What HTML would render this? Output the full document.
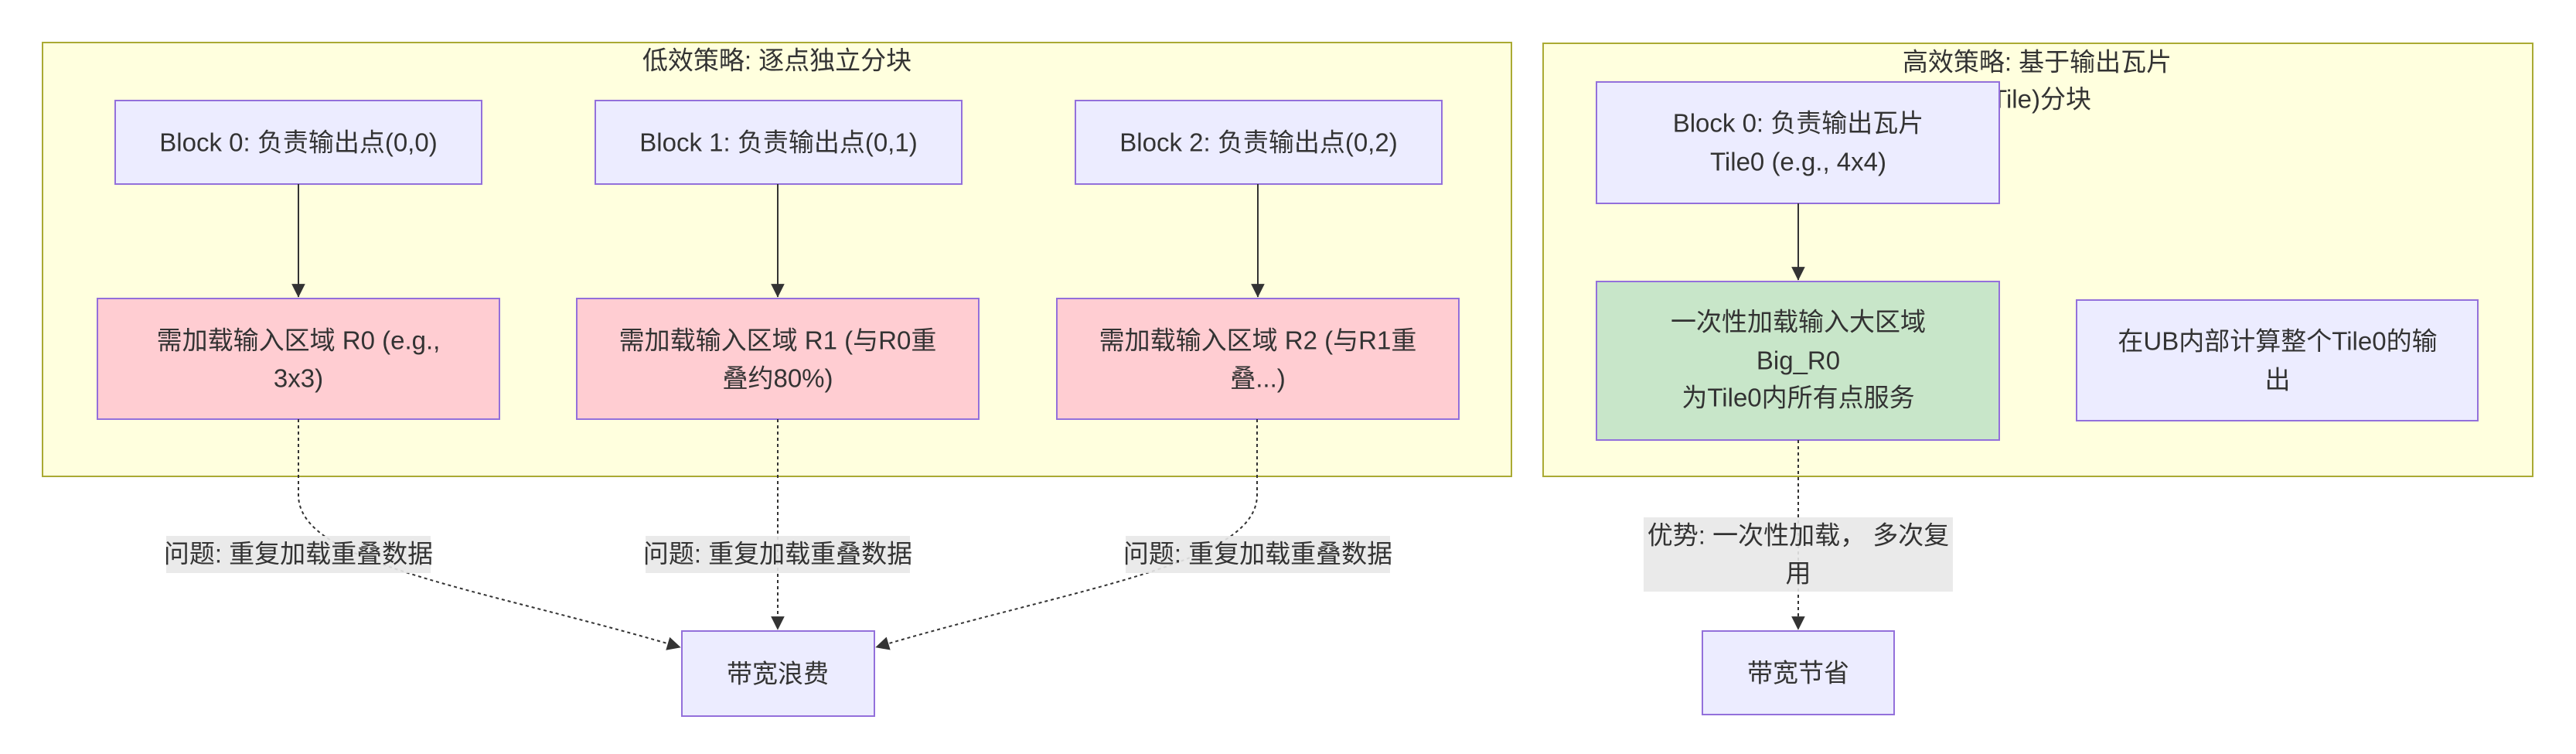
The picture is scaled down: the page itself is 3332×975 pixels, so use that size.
<!DOCTYPE html>
<html><head><meta charset="utf-8"><style>
html,body{margin:0;padding:0;background:#fff;}
svg{display:block;}
text{font-family:"Liberation Sans","Noto Sans CJK SC",sans-serif;font-size:33px;fill:#333;text-anchor:middle;dominant-baseline:central;}
</style></head><body>
<svg width="3332" height="975" viewBox="0 0 3332 975" xmlns="http://www.w3.org/2000/svg">
<defs>
<marker id="ah" viewBox="0 0 10 10" refX="9" refY="5" markerWidth="8" markerHeight="8" markerUnits="userSpaceOnUse" orient="auto" style="overflow:visible">
<path d="M0,0 L10,5 L0,10 z" fill="#333" transform="scale(2.2) translate(-5.5,-2.7)"/>
</marker>
</defs>
<!-- clusters -->
<rect x="55" y="55" width="1900" height="561" fill="#ffffde" stroke="#aaaa33" stroke-width="2"/>
<text x="1005" y="78">低效策略: 逐点独立分块</text>
<rect x="1996" y="56" width="1280" height="560" fill="#ffffde" stroke="#aaaa33" stroke-width="2"/>
<text x="2635" y="80">高效策略: 基于输出瓦片</text>
<text x="2635" y="128">(Tile)分块</text>

<!-- left blocks -->
<g fill="#ECECFF" stroke="#9370DB" stroke-width="2">
<rect x="149" y="130" width="474" height="108"/>
<rect x="770" y="130" width="474" height="108"/>
<rect x="1391" y="130" width="474" height="108"/>
</g>
<text x="386" y="184">Block 0: 负责输出点(0,0)</text>
<text x="1007" y="184">Block 1: 负责输出点(0,1)</text>
<text x="1628" y="184">Block 2: 负责输出点(0,2)</text>

<g fill="#FFCDD2" stroke="#9370DB" stroke-width="2">
<rect x="126" y="386" width="520" height="156"/>
<rect x="746" y="386" width="520" height="156"/>
<rect x="1367" y="386" width="520" height="156"/>
</g>
<text x="386" y="440">需加载输入区域 R0 (e.g.,</text>
<text x="386" y="489">3x3)</text>
<text x="1006" y="440">需加载输入区域 R1 (与R0重</text>
<text x="1006" y="489">叠约80%)</text>
<text x="1627" y="440">需加载输入区域 R2 (与R1重</text>
<text x="1627" y="489">叠...)</text>

<g stroke="#333" stroke-width="2" fill="none">
<line x1="386" y1="238" x2="386" y2="384" marker-end="url(#ah)"/>
<line x1="1006" y1="238" x2="1006" y2="384" marker-end="url(#ah)"/>
<line x1="1627" y1="238" x2="1627" y2="384" marker-end="url(#ah)"/>
</g>

<!-- dotted edges -->
<g stroke="#333" stroke-width="2" fill="none" stroke-dasharray="4,4">
<path d="M386,542 L386,640 C386,730 620,760 880,837" marker-end="url(#ah)"/>
<line x1="1006" y1="542" x2="1006" y2="814" marker-end="url(#ah)"/>
<path d="M1626,542 L1626,640 C1626,730 1390,760 1133,837" marker-end="url(#ah)"/>
</g>
<g fill="#e8e8e8" opacity="0.9">
<rect x="215" y="693" width="342" height="48"/>
<rect x="835" y="693" width="342" height="48"/>
<rect x="1456" y="693" width="342" height="48"/>
</g>
<text x="386" y="716">问题: 重复加载重叠数据</text>
<text x="1006" y="716">问题: 重复加载重叠数据</text>
<text x="1627" y="716">问题: 重复加载重叠数据</text>

<rect x="882" y="816" width="249" height="110" fill="#ECECFF" stroke="#9370DB" stroke-width="2"/>
<text x="1006" y="871">带宽浪费</text>

<!-- right -->
<rect x="2065" y="106" width="521" height="157" fill="#ECECFF" stroke="#9370DB" stroke-width="2"/>
<text x="2326" y="159">Block 0: 负责输出瓦片</text>
<text x="2326" y="209">Tile0 (e.g., 4x4)</text>
<line x1="2326" y1="263" x2="2326" y2="362" stroke="#333" stroke-width="2" marker-end="url(#ah)"/>
<rect x="2065" y="364" width="521" height="205" fill="#C8E6C9" stroke="#9370DB" stroke-width="2"/>
<text x="2326" y="416">一次性加载输入大区域</text>
<text x="2326" y="466">Big_R0</text>
<text x="2326" y="514">为Tile0内所有点服务</text>
<rect x="2686" y="388" width="519" height="156" fill="#ECECFF" stroke="#9370DB" stroke-width="2"/>
<text x="2946" y="441">在UB内部计算整个Tile0的输</text>
<text x="2946" y="491">出</text>

<line x1="2326" y1="569" x2="2326" y2="814" stroke="#333" stroke-width="2" stroke-dasharray="4,4" marker-end="url(#ah)"/>
<rect x="2126" y="669" width="400" height="96" fill="#e8e8e8" opacity="0.9"/>
<text x="2326" y="692">优势: 一次性加载， 多次复</text>
<text x="2326" y="741">用</text>
<rect x="2202" y="816" width="248" height="108" fill="#ECECFF" stroke="#9370DB" stroke-width="2"/>
<text x="2326" y="870">带宽节省</text>
</svg>
</body></html>
